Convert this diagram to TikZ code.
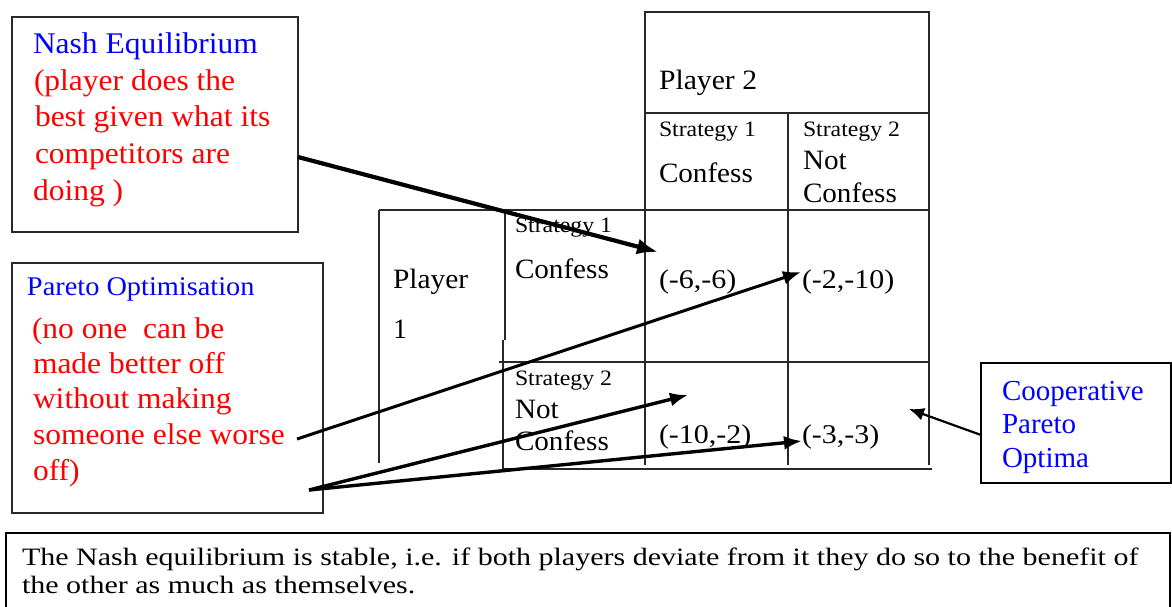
\documentclass[tikz,border=0pt]{standalone}
\usepackage{graphicx}
\usepackage{fontspec}
\setmainfont{Liberation Serif}
\usetikzlibrary{arrows.meta}
\definecolor{myblue}{RGB}{0,0,255}
\definecolor{myred}{RGB}{255,0,0}
\definecolor{linegray}{RGB}{40,40,40}
\newcommand{\hx}[2]{\scalebox{#1}[1]{#2}}
\tikzset{
  box/.style={draw=linegray, line width=1.6pt, anchor=north west, inner sep=0pt, outer sep=0pt},
  txt/.style={anchor=base west, inner sep=0pt, outer sep=0pt},
  bigtxt/.style={txt, font=\fontsize{30}{36}\selectfont},
  tabtxt/.style={txt, font=\fontsize{28}{34}\selectfont},
  smalltxt/.style={txt, font=\fontsize{22}{26}\selectfont},
  paytxt/.style={txt, font=\fontsize{27}{32}\selectfont},
  notetxt/.style={txt, font=\fontsize{25}{30}\selectfont},
  gridline/.style={draw=linegray, line width=1.4pt},
  arrowA/.style={-{Latex[length=21pt,width=16pt]}, line width=4.2pt},
  arrowB/.style={-{Latex[length=18pt,width=14pt]}, line width=3pt},
  arrowC/.style={-{Latex[length=15pt,width=13pt]}, line width=2.2pt},
}
\begin{document}
\begin{tikzpicture}[x=1pt,y=-1pt]
\useasboundingbox (0,0) rectangle (1172,607);

% ---------- boxes ----------
\node[box, minimum width=286pt, minimum height=215pt] (nash) at (12,17) {};
\node[box, minimum width=311pt, minimum height=250pt] (pareto) at (12,263) {};
\node[box, draw=black, minimum width=190pt, minimum height=120pt] (coop) at (981,363) {};
\node[box, draw=black, line width=2.6pt, minimum width=1164pt, minimum height=90pt] (note) at (6,533) {};

% ---------- Nash box text ----------
\node[bigtxt, text=myblue] (n1) at (33,54) {\hx{1.05}{Nash Equilibrium}};
\node[bigtxt, text=myred] (n2) at (34,90.5) {\hx{1.05}{(player does the}};
\node[bigtxt, text=myred] (n3) at (35,127) {\hx{1.05}{best given what its}};
\node[bigtxt, text=myred] (n4) at (35,163.5) {\hx{1.05}{competitors are}};
\node[bigtxt, text=myred] (n5) at (33,200) {\hx{1.05}{doing )}};

% ---------- Pareto box text ----------
\node[txt, font=\fontsize{27}{32}\selectfont, text=myblue] (p1) at (27,295) {\hx{1.05}{Pareto Optimisation}};
\node[bigtxt, text=myred] (p2) at (32,338) {\hx{1.05}{(no one\ \ can be}};
\node[bigtxt, text=myred] (p3) at (33,373) {\hx{1.05}{made better off}};
\node[bigtxt, text=myred] (p4) at (33,408.5) {\hx{1.05}{without making}};
\node[bigtxt, text=myred] (p5) at (33,444) {\hx{1.05}{someone else worse}};
\node[bigtxt, text=myred] (p6) at (33,480) {\hx{1.05}{off)}};

% ---------- Cooperative box text ----------
\node[txt, font=\fontsize{29}{34}\selectfont, text=myblue] (c1) at (1002,400) {Cooperative};
\node[txt, font=\fontsize{29}{34}\selectfont, text=myblue] (c2) at (1002,433.5) {Pareto};
\node[txt, font=\fontsize{29}{34}\selectfont, text=myblue] (c3) at (1002,467) {Optima};

% ---------- note text ----------
\node[notetxt] (t1) at (22,565) {\hx{1.2}{The Nash equilibrium is stable, i.e. if both players deviate from it they do so to the benefit of}};
\node[notetxt] (t2) at (22,593) {\hx{1.2}{the other as much as themselves.}};

% ---------- payoff table ----------
\draw[gridline] (645,12) rectangle (929,113);
\draw[gridline] (645,113) -- (645,465);
\draw[gridline] (788,113) -- (788,465);
\draw[gridline] (929,113) -- (929,465);
\draw[gridline] (379,210) -- (929,210);
\draw[gridline] (379,210) -- (379,463);
\draw[gridline] (505,210) -- (505,340);
\draw[gridline] (503,340) -- (503,469);
\draw[gridline] (499,362) -- (929,362);
\draw[gridline] (503,469) -- (932,469);

\node[tabtxt] (pl2) at (659,90) {\hx{1.06}{Player 2}};
\node[smalltxt] (cs1) at (659,137) {\hx{1.08}{Strategy 1}};
\node[tabtxt] (cc1) at (659,182) {\hx{1.04}{Confess}};
\node[smalltxt] (cs2) at (803,137) {\hx{1.08}{Strategy 2}};
\node[tabtxt] (cn2) at (803,169) {\hx{1.04}{Not}};
\node[tabtxt] (cc2) at (803,202) {\hx{1.04}{Confess}};

\node[tabtxt] (pl1a) at (393,288) {\hx{1.05}{Player}};
\node[tabtxt] (pl1b) at (393,338) {1};
\node[smalltxt] (rs1) at (515,232) {\hx{1.08}{Strategy 1}};
\node[tabtxt] (rc1) at (515,278) {\hx{1.04}{Confess}};
\node[smalltxt] (rs2) at (515,385) {\hx{1.08}{Strategy 2}};
\node[tabtxt] (rn2) at (515,418) {\hx{1.04}{Not}};
\node[tabtxt] (rc2) at (515,450) {\hx{1.04}{Confess}};

\node[paytxt] (pa) at (659,288) {\hx{1.11}{(-6,-6)}};
\node[paytxt] (pb) at (802,288) {\hx{1.11}{(-2,-10)}};
\node[paytxt] (pc) at (659,443) {\hx{1.11}{(-10,-2)}};
\node[paytxt] (pd) at (802,443) {\hx{1.11}{(-3,-3)}};

% ---------- connector end points ----------
\coordinate (nashOut) at (298,157);
\coordinate (nashTip) at (658,252);
\coordinate (parOutA) at (297,439);
\coordinate (parOutB) at (309,490);
\coordinate (tipB) at (801,272);
\coordinate (tipC) at (688,395);
\coordinate (tipD) at (802,441);
\coordinate (coopOut) at (981,435);
\coordinate (coopTip) at (909,409);

% ---------- connectors ----------
\draw[arrowA] (nashOut) -- (nashTip);
\draw[arrowB] (parOutA) -- (tipB);
\draw[arrowB, line width=3.4pt] (parOutB) -- (tipC);
\draw[arrowB, line width=3.4pt] (parOutB) -- (tipD);
\draw[arrowC] (coopOut) -- (coopTip);
\end{tikzpicture}
\end{document}
